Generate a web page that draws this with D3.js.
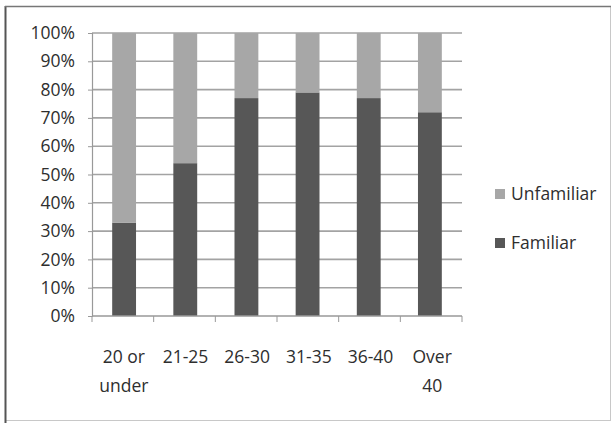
<!DOCTYPE html>
<html>
<head>
<meta charset="utf-8">
<script src="https://cdn.jsdelivr.net/npm/d3@7"></script>
<style>
  html, body { margin: 0; padding: 0; background: #fff; }
  svg { display: block; }
  text { font-family: "Open Sans", "Liberation Sans", sans-serif; fill: #2e2e2e; }
</style>
</head>
<body>
<svg id="chart" width="616" height="423"></svg>
<script>
// Age groups along the x axis
const ageGroups = [["20 or", "under"], ["21-25"], ["26-30"], ["31-35"], ["36-40"], ["Over", "40"]];
// Share of respondents familiar with the topic (%)
const familiar = [33, 54, 77, 79, 77, 72];
// Share unfamiliar (%), the remainder of each column
const unfamiliar = [67, 46, 23, 21, 23, 28];
const yTicks = [0, 10, 20, 30, 40, 50, 60, 70, 80, 90, 100];
const seriesNames = ["Unfamiliar", "Familiar"];
const seriesColors = { Familiar: "#575757", Unfamiliar: "#a7a7a7" };

const svg = d3.select("#chart");
const W = 616, H = 423;
const fontSize = 17.5;

// outer frame
svg.append("rect").attr("x", 5.5).attr("y", 6.5).attr("width", W - 11).attr("height", H - 9)
  .attr("fill", "#fff").attr("stroke", "#c8c8c8").attr("stroke-width", 1);
svg.append("line").attr("x1", 5.5).attr("x2", 5.5).attr("y1", 6).attr("y2", H)
  .attr("stroke", "#555").attr("stroke-width", 2);
svg.append("line").attr("x1", 5).attr("x2", W - 5).attr("y1", 6.5).attr("y2", 6.5)
  .attr("stroke", "#777").attr("stroke-width", 1.5);

const plot = { left: 92, right: 462, top: 33, bottom: 316 };

const x = d3.scaleBand()
  .domain(d3.range(ageGroups.length))
  .range([plot.left, plot.right])
  .paddingInner(0.61).paddingOuter(0.33);
const xBand = d3.scaleBand()
  .domain(d3.range(ageGroups.length))
  .range([plot.left, plot.right]);
const y = d3.scaleLinear().domain([0, 100]).range([plot.bottom, plot.top]);

// horizontal gridlines
svg.append("g").selectAll("line").data(yTicks.slice(1)).join("line")
  .attr("x1", plot.left).attr("x2", plot.right)
  .attr("y1", d => y(d)).attr("y2", d => y(d))
  .attr("stroke", "#a3a3a3").attr("stroke-width", 1.6);

// stacked columns
const rows = ageGroups.map((g, i) => ({ i, Familiar: familiar[i], Unfamiliar: unfamiliar[i] }));
const stack = d3.stack().keys(["Familiar", "Unfamiliar"])(rows);
svg.append("g").selectAll("g").data(stack).join("g")
  .attr("fill", s => seriesColors[s.key])
  .selectAll("rect").data(s => s).join("rect")
  .attr("x", d => x(d.data.i)).attr("width", x.bandwidth())
  .attr("y", d => y(d[1])).attr("height", d => y(d[0]) - y(d[1]));

// y axis
const yAxis = svg.append("g").attr("transform", `translate(${plot.left},0)`)
  .call(d3.axisLeft(y).tickValues(yTicks).tickFormat(d => d + "%").tickSize(4).tickPadding(13));
yAxis.select(".domain").attr("stroke", "#999").attr("stroke-width", 1.2);
yAxis.selectAll(".tick line").attr("stroke", "#999");
yAxis.selectAll("text").attr("font-size", fontSize).attr("fill", "#2e2e2e")
  .attr("font-family", "'Open Sans', sans-serif");

// x axis baseline and category separators
const xAxis = svg.append("g").attr("transform", `translate(0,${plot.bottom})`);
xAxis.append("line").attr("x1", plot.left).attr("x2", plot.right)
  .attr("stroke", "#999").attr("stroke-width", 1.6);
xAxis.selectAll("line.sep").data(d3.range(ageGroups.length + 1)).join("line")
  .attr("class", "sep")
  .attr("x1", i => i < ageGroups.length ? xBand(i) : plot.right)
  .attr("x2", i => i < ageGroups.length ? xBand(i) : plot.right)
  .attr("y1", 0).attr("y2", 6).attr("stroke", "#999");

// category labels
const labels = svg.append("g").selectAll("text").data(ageGroups).join("text")
  .attr("x", (d, i) => xBand(i) + xBand.bandwidth() / 2 + 1)
  .attr("y", 363).attr("text-anchor", "middle").attr("font-size", fontSize);
labels.selectAll("tspan").data(d => d).join("tspan")
  .attr("x", function () { return d3.select(this.parentNode).attr("x"); })
  .attr("dy", (d, j) => j === 0 ? 0 : 29).text(d => d);

// legend
const legend = svg.append("g").selectAll("g").data(seriesNames).join("g")
  .attr("transform", (d, i) => `translate(495,${189 + i * 49})`);
legend.append("rect").attr("width", 10).attr("height", 10)
  .attr("fill", d => seriesColors[d]);
legend.append("text").attr("x", 16).attr("y", 11).attr("font-size", fontSize).text(d => d);
</script>
</body>
</html>
